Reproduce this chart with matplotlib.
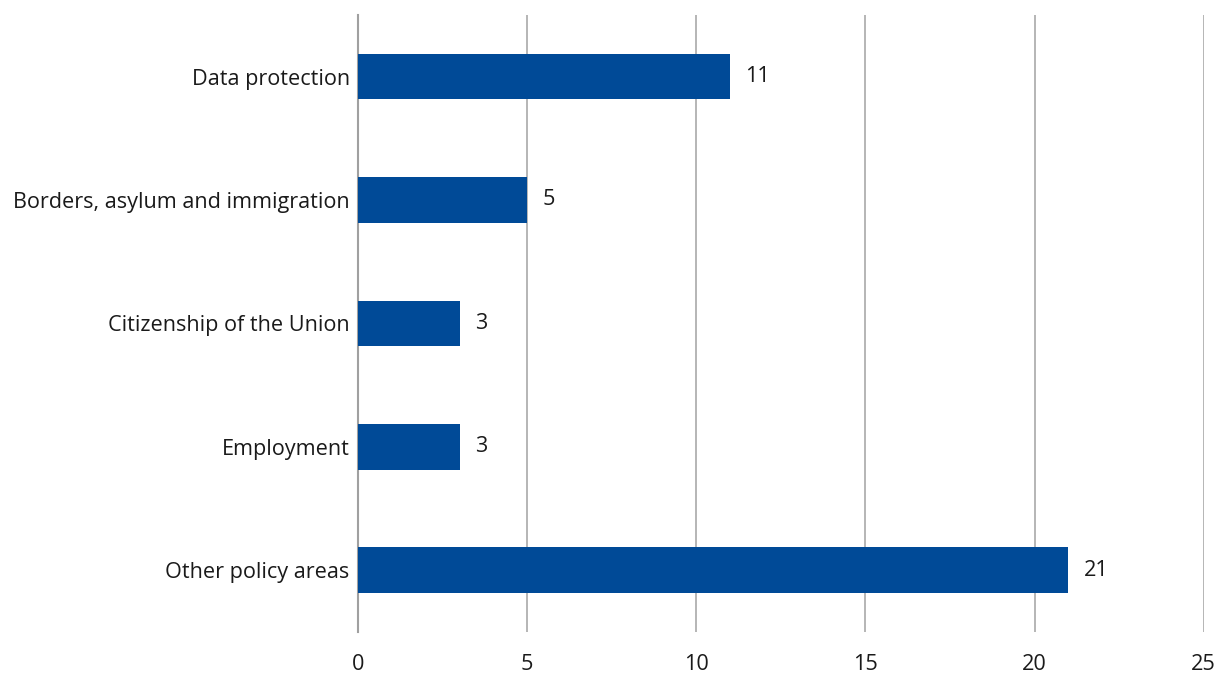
import matplotlib
matplotlib.use("Agg")
import matplotlib.pyplot as plt

# Cases per policy area
categories = ["Data protection", "Borders, asylum and immigration",
              "Citizenship of the Union", "Employment", "Other policy areas"]
counts = [11, 5, 3, 3, 21]
x_ticks = [0, 5, 10, 15, 20, 25]

BAR_COLOR = "#004a97"
GRID_COLOR = "#b0b0b0"
FS = 15.6

plt.rcParams["font.family"] = ["Open Sans", "DejaVu Sans"]

fig = plt.figure(figsize=(12.22, 6.8), dpi=100)
ax = fig.add_axes([0.293, 0.071, 0.692, 0.907])

pos = range(len(categories))
ax.barh(pos, counts, height=0.37, color=BAR_COLOR, zorder=3)

for y, v in zip(pos, counts):
    ax.text(v + 0.45, y, str(v), va="center", ha="left", fontsize=FS, color="#1a1a1a")

ax.set_xlim(0, 25)
ax.set_ylim(len(categories) - 0.5, -0.5)
ax.set_xticks(x_ticks)
ax.set_yticks(list(pos))
ax.set_yticklabels(categories, va="center_baseline")
ax.tick_params(axis="both", length=0, labelsize=FS, colors="#1a1a1a")
ax.tick_params(axis="x", pad=16)
ax.tick_params(axis="y", pad=6)

ax.grid(axis="x", color=GRID_COLOR, linewidth=1.3, zorder=0)
for side in ["top", "right", "bottom"]:
    ax.spines[side].set_visible(False)
ax.spines["left"].set_color("#a0a0a0")
ax.spines["left"].set_linewidth(1.5)

fig.savefig("out.png", dpi=100)
